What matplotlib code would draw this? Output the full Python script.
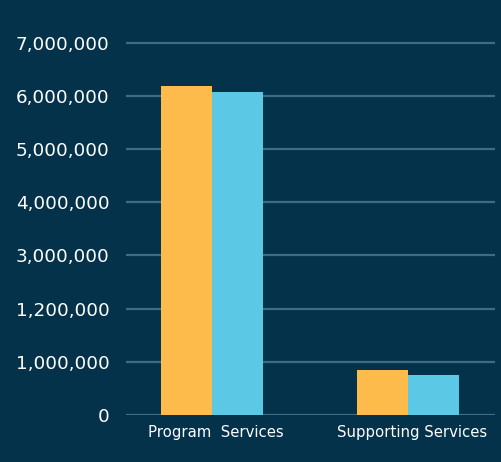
import numpy as np
import matplotlib.pyplot as plt
import matplotlib.transforms as mtransforms

# data
categories = ["Program  Services", "Supporting Services"]
series_a = [6190000, 850000]   # orange
series_b = [6080000, 755000]   # blue
tick_vals = [0, 1000000, 2000000, 3000000, 4000000, 5000000, 6000000, 7000000]
tick_labels = ["0", "1,000,000", "1,200,000", "3,000,000", "4,000,000",
               "5,000,000", "6,000,000", "7,000,000"]

bg = "#04324a"
plt.rcParams['font.family'] = ['DejaVu Sans']

fig = plt.figure(figsize=(5.01, 4.62), dpi=100, facecolor=bg)
ax = fig.add_axes([126/501, 47/462, 369/501, 0.8405])
ax.set_facecolor(bg)

x = np.arange(len(categories))
w = 0.26
ax.bar(x - w/2, series_a, w, color="#fdbb4b", zorder=3)
ax.bar(x + w/2, series_b, w, color="#5bc8e6", zorder=3)

ax.set_ylim(0, 7300000)
ax.set_xlim(-0.439, 1.444)
ax.set_yticks(tick_vals)
ax.set_yticklabels(tick_labels)
ax.set_xticks(x)
ax.set_xticklabels(categories)

ax.grid(axis="y", color="#3f6c82", linewidth=1.6, zorder=1)
ax.grid(axis="x", visible=False)
for s in ax.spines.values():
    s.set_visible(False)
ax.tick_params(axis="y", length=0, pad=12, labelsize=13.2, labelcolor="white")
ax.tick_params(axis="x", length=0, pad=7, labelsize=10.7, labelcolor="white")

# labels sit a bit right of the bar pair in the original
shift = mtransforms.ScaledTranslation(4/100, 0, fig.dpi_scale_trans)
for lbl in ax.get_xticklabels():
    lbl.set_transform(lbl.get_transform() + shift)

fig.savefig("out.png", dpi=100, facecolor=bg)
